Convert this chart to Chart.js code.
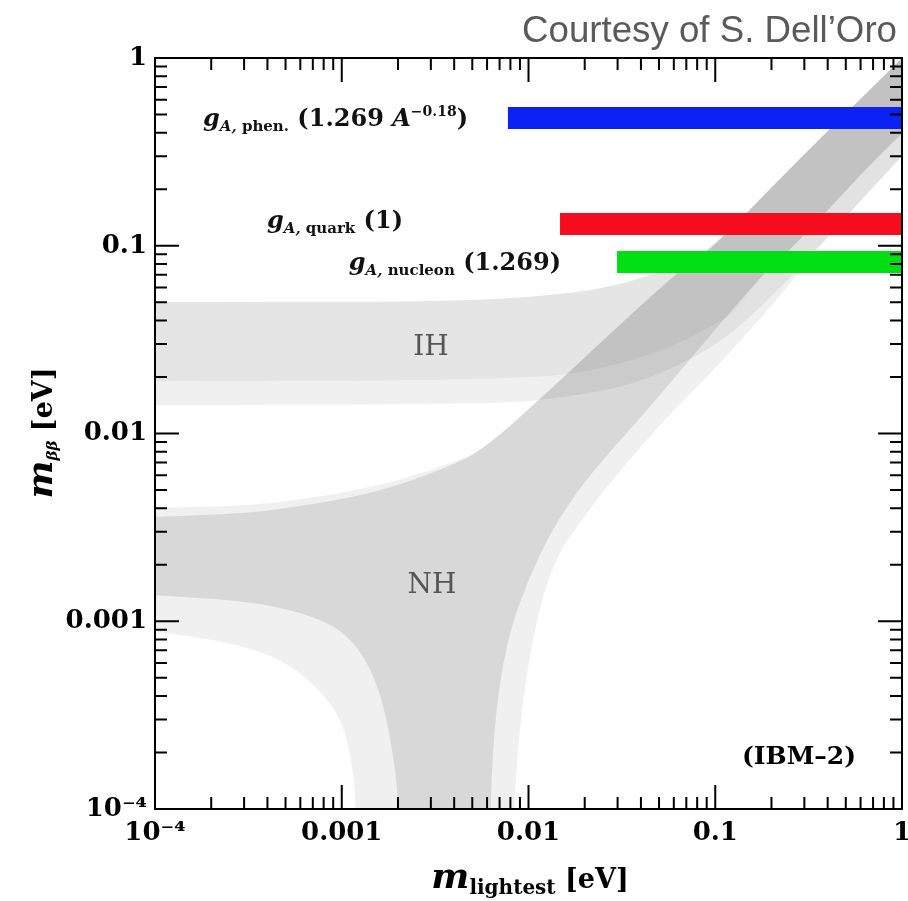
<!DOCTYPE html>
<html>
<head>
<meta charset="utf-8">
<script src="https://cdn.jsdelivr.net/npm/chart.js@4.4.0/dist/chart.umd.min.js"></script>
<style>
  html, body { margin: 0; padding: 0; background: #fff; }
</style>
</head>
<body>
<canvas id="mbb" width="908" height="901"></canvas>
<script>
// osie: dekady i ich podpisy
const decades = [1e-4, 1e-3, 1e-2, 1e-1, 1]
const decadeLabels = ["10⁻⁴", "0.001", "0.01", "0.1", "1"]
const minorFactors = [2, 3, 4, 5, 6, 7, 8, 9]

// NH, pasmo 3σ (jasne): górna krawędź, prawa gałąź w dół, lewa gałąź w górę
const nhOuterX = [9e-5, 1e-4, 3.23e-4, 5.97e-4, 1.107e-3, 2.05e-3, 3.8e-3, 5.71e-3, 1.303e-2, 2.415e-2, 4.47e-2, 7.32e-2, 9.73e-2, 0.2843, 0.811, 1.25,
  1.3, 0.976, 0.342, 0.2306, 0.1022, 0.0551, 0.0321, 0.01958, 0.01303, 9.82e-3, 8.26e-3, 8.1e-3,
  1.2e-3, 1.207e-3, 1.107e-3, 9.78e-4, 7.37e-4, 4.85e-4, 2.62e-4, 1.16e-4, 1e-4, 9e-5]
const nhOuterY = [0.00401, 0.00401, 0.00414, 0.00445, 0.0049, 0.00565, 0.0069, 0.00817, 0.01705, 0.0303, 0.0533, 0.0819, 0.0973, 0.2934, 0.812, 1.25,
  0.39, 0.2934, 0.0938, 0.056, 0.0226, 0.01224, 0.00663, 0.00359, 0.00195, 5.99e-4, 1.158e-4, 1e-5,
  1e-5, 1.025e-4, 2.06e-4, 3.09e-4, 4.47e-4, 6.22e-4, 7.66e-4, 8.66e-4, 8.77e-4, 8.8e-4]

// NH, pasmo centralne (ciemne)
const nhInnerX = [9e-5, 1e-4, 3.23e-4, 5.97e-4, 1.107e-3, 2.05e-3, 3.8e-3, 5.71e-3, 1.303e-2, 2.415e-2, 4.47e-2, 7.32e-2, 9.73e-2, 0.2843, 0.811, 1.25,
  1.3, 0.884, 0.2514, 0.1802, 0.0447, 0.0321, 0.01958, 0.01303, 9.82e-3, 7.96e-3, 6.78e-3, 6.22e-3, 6.1e-3,
  2.03e-3, 2.05e-3, 1.813e-3, 1.545e-3, 1.252e-3, 9.43e-4, 5.97e-4, 3.23e-4, 1e-4, 9e-5]
const nhInnerY = [0.00359, 0.00359, 0.00377, 0.00411, 0.00453, 0.00532, 0.00671, 0.00817, 0.01705, 0.0303, 0.0533, 0.0819, 0.0973, 0.2934, 0.812, 1.25,
  0.48, 0.3613, 0.0938, 0.0716, 0.01384, 0.00958, 0.00545, 0.00295, 1.6e-3, 8.98e-4, 3.95e-4, 1.158e-4, 1e-5,
  1e-5, 1.025e-4, 2.54e-4, 4.69e-4, 7.03e-4, 9.32e-4, 1.12e-3, 1.27e-3, 1.38e-3, 1.38e-3]

// IH, pasmo 3σ (jasne)
const ihOuterX = [9e-5, 1e-4, 3.36e-3, 1.152e-2, 2.633e-2, 4.88e-2, 7.32e-2, 9.73e-2, 0.2843, 0.811, 1.25,
  1.3, 0.976, 0.4116, 0.2843, 0.1736, 0.106, 0.0572, 0.0309, 0.01475, 7.04e-3, 1e-4, 9e-5]
const ihOuterY = [0.0502, 0.0502, 0.0503, 0.0535, 0.0596, 0.0716, 0.0845, 0.0985, 0.2934, 0.812, 1.25,
  0.39, 0.2934, 0.1155, 0.0761, 0.0466, 0.0303, 0.0218, 0.01747, 0.01546, 0.01436, 0.01418, 0.01418]

// IH, pasmo centralne (ciemne)
const ihInnerX = [9e-5, 1e-4, 3.36e-3, 1.152e-2, 2.633e-2, 4.88e-2, 7.32e-2, 9.73e-2, 0.2843, 0.811, 1.25,
  1.3, 0.884, 0.2514, 0.1736, 0.1245, 0.11, 0.0594, 0.0321, 0.01887, 0.01152, 3.36e-3, 1e-4, 9e-5]
const ihInnerY = [0.0502, 0.0502, 0.0503, 0.0535, 0.0596, 0.0716, 0.0845, 0.0985, 0.2934, 0.812, 1.25,
  0.48, 0.3613, 0.0938, 0.0682, 0.0438, 0.0402, 0.0289, 0.0237, 0.021, 0.02, 0.0192, 0.019, 0.019]

// limity m_ββ dla różnych g_A (phen., quark, nucleon)
const gaStartX = [7.76e-3, 1.475e-2, 2.98e-2]
const gaLimitY = [0.479, 0.1305, 0.0819]
const gaColors = ["#0b22f4", "#f50c1e", "#00df12"]

const SERIF = "'DejaVu Serif', 'Liberation Serif', serif"

function points(xs, ys) {
  return xs.map((x, i) => ({ x: x, y: ys[i] }))
}

function band(xs, ys, color) {
  return { data: points(xs, ys), bandColor: color, pointRadius: 0, showLine: false }
}

function limitBar(i) {
  return {
    data: [{ x: gaStartX[i], y: gaLimitY[i] }, { x: 1, y: gaLimitY[i] }],
    showLine: true,
    borderColor: gaColors[i],
    borderWidth: 22,
    borderCapStyle: "butt",
    pointRadius: 0,
    clip: 0,
  }
}

// wypełnienie obszarów NH/IH – wygładzony wielokąt przez punkty policzone przez skale
const bandFill = {
  id: "bandFill",
  beforeDatasetsDraw(chart) {
    const { ctx, chartArea: a } = chart
    ctx.save()
    ctx.beginPath()
    ctx.rect(a.left, a.top, a.right - a.left, a.bottom - a.top)
    ctx.clip()
    chart.data.datasets.forEach((ds, i) => {
      if (!ds.bandColor) return
      const pts = chart.getDatasetMeta(i).data
      const n = pts.length
      ctx.beginPath()
      ctx.moveTo(pts[0].x, pts[0].y)
      for (let j = 1; j < n - 1; j++) {
        const mx = (pts[j].x + pts[j + 1].x) / 2
        const my = (pts[j].y + pts[j + 1].y) / 2
        ctx.quadraticCurveTo(pts[j].x, pts[j].y, mx, my)
      }
      ctx.lineTo(pts[n - 1].x, pts[n - 1].y)
      ctx.closePath()
      ctx.fillStyle = ds.bandColor
      ctx.fill()
    })
    ctx.restore()
  },
}

// ramka i znaczniki skierowane do środka na wszystkich czterech bokach
const frameTicks = {
  id: "frameTicks",
  afterDatasetsDraw(chart) {
    const { ctx, chartArea: a, scales } = chart
    const marks = []
    decades.forEach((d) => {
      marks.push([d, 24])
      if (d < 1) minorFactors.forEach((k) => marks.push([k * d, 12]))
    })
    ctx.save()
    ctx.strokeStyle = "#000"
    ctx.lineWidth = 2
    ctx.beginPath()
    marks.forEach(([v, len]) => {
      const px = scales.x.getPixelForValue(v)
      ctx.moveTo(px, a.bottom)
      ctx.lineTo(px, a.bottom - len)
      ctx.moveTo(px, a.top)
      ctx.lineTo(px, a.top + len)
      const py = scales.y.getPixelForValue(v)
      ctx.moveTo(a.left, py)
      ctx.lineTo(a.left + len, py)
      ctx.moveTo(a.right, py)
      ctx.lineTo(a.right - len, py)
    })
    ctx.stroke()
    ctx.strokeRect(a.left, a.top, a.right - a.left, a.bottom - a.top)
    ctx.restore()
  },
}

// tekst złożony z kawałków (indeksy dolne/górne)
function drawRuns(ctx, runs, x, y, align) {
  let w = 0
  runs.forEach((r) => {
    ctx.font = r[1]
    w += ctx.measureText(r[0]).width
  })
  let cx = align === "center" ? x - w / 2 : align === "right" ? x - w : x
  ctx.textAlign = "left"
  runs.forEach((r) => {
    ctx.font = r[1]
    ctx.fillText(r[0], cx, y + (r[2] || 0))
    cx += ctx.measureText(r[0]).width
  })
}

const annotations = {
  id: "annotations",
  afterDraw(chart) {
    const { ctx } = chart
    ctx.save()
    ctx.textBaseline = "alphabetic"

    // podpis u góry
    ctx.fillStyle = "#5a5a5a"
    ctx.font = "36px 'Liberation Sans', Arial, sans-serif"
    const credit = "Courtesy of S. Dell’Oro"
    const cw = ctx.measureText(credit).width
    ctx.save()
    ctx.translate(897, 42)
    ctx.scale(375 / cw, 1)
    ctx.textAlign = "right"
    ctx.fillText(credit, 0, 0)
    ctx.restore()

    // nazwy hierarchii
    ctx.fillStyle = "#555"
    ctx.font = `28px ${SERIF}`
    ctx.textAlign = "center"
    ctx.fillText("IH", 431, 355)
    ctx.fillText("NH", 432, 593)

    // opisy pasków g_A
    ctx.fillStyle = "#111"
    const big = `bold 24px ${SERIF}`
    const bigIt = `italic bold 24px ${SERIF}`
    const sub = `bold 15px ${SERIF}`
    const subIt = `italic bold 15px ${SERIF}`
    drawRuns(ctx, [["g", bigIt], ["A, ", subIt, 5], ["phen.", sub, 5], [" (1.269 ", big], ["A", bigIt], ["−0.18", `bold 14px ${SERIF}`, -10], [")", big]], 468, 126, "right")
    drawRuns(ctx, [["g", bigIt], ["A, ", subIt, 5], ["quark", sub, 5], [" (1)", big]], 403, 228, "right")
    drawRuns(ctx, [["g", bigIt], ["A, ", subIt, 5], ["nucleon", sub, 5], [" (1.269)", big]], 561, 270, "right")

    ctx.fillStyle = "#000"
    ctx.font = `bold 25px ${SERIF}`
    ctx.textAlign = "center"
    ctx.fillText("(IBM–2)", 799, 764)

    // tytuły osi
    drawRuns(ctx, [["m", `italic bold 36px ${SERIF}`], ["lightest", `bold 20px ${SERIF}`, 6], [" [eV]", `bold 27px ${SERIF}`]], 530, 888, "center")
    ctx.save()
    ctx.translate(52, 433)
    ctx.rotate(-Math.PI / 2)
    drawRuns(ctx, [["m", `italic bold 36px ${SERIF}`], ["ββ", `italic bold 15px ${SERIF}`, 5], [" [eV]", `bold 27px ${SERIF}`]], 0, 0, "center")
    ctx.restore()
    ctx.restore()
  },
}

const tickFont = { family: SERIF, weight: "bold", size: 26 }

const config = {
  type: "scatter",
  data: {
    datasets: [
      band(ihOuterX, ihOuterY, "rgba(0,0,0,0.059)"),
      band(nhOuterX, nhOuterY, "rgba(0,0,0,0.059)"),
      band(ihInnerX, ihInnerY, "rgba(0,0,0,0.046)"),
      band(nhInnerX, nhInnerY, "rgba(0,0,0,0.1)"),
      limitBar(0),
      limitBar(1),
      limitBar(2),
    ],
  },
  options: {
    responsive: false,
    animation: false,
    events: [],
    layout: { padding: { top: 58, right: 6, left: 0, bottom: 0 } },
    plugins: { legend: { display: false }, tooltip: { enabled: false } },
    scales: {
      x: {
        type: "logarithmic",
        min: 1e-4,
        max: 1,
        afterBuildTicks: (s) => { s.ticks = decades.map((v) => ({ value: v })) },
        afterFit: (s) => { s.height = 92; s.paddingLeft = 0; s.paddingRight = 0 },
        grid: { display: false, drawTicks: false },
        border: { display: false },
        ticks: { autoSkip: false, maxRotation: 0, padding: 9, color: "#000", font: tickFont, callback: (v, i) => decadeLabels[i] },
      },
      y: {
        type: "logarithmic",
        min: 1e-4,
        max: 1,
        afterBuildTicks: (s) => { s.ticks = decades.map((v) => ({ value: v })) },
        afterFit: (s) => { s.width = 155 },
        grid: { display: false, drawTicks: false },
        border: { display: false },
        ticks: { autoSkip: false, padding: 8, color: "#000", font: tickFont, callback: (v, i) => decadeLabels[i] },
      },
    },
  },
  plugins: [bandFill, frameTicks, annotations],
}

const mbbChart = new Chart(document.getElementById("mbb"), config)
</script>
</body>
</html>
